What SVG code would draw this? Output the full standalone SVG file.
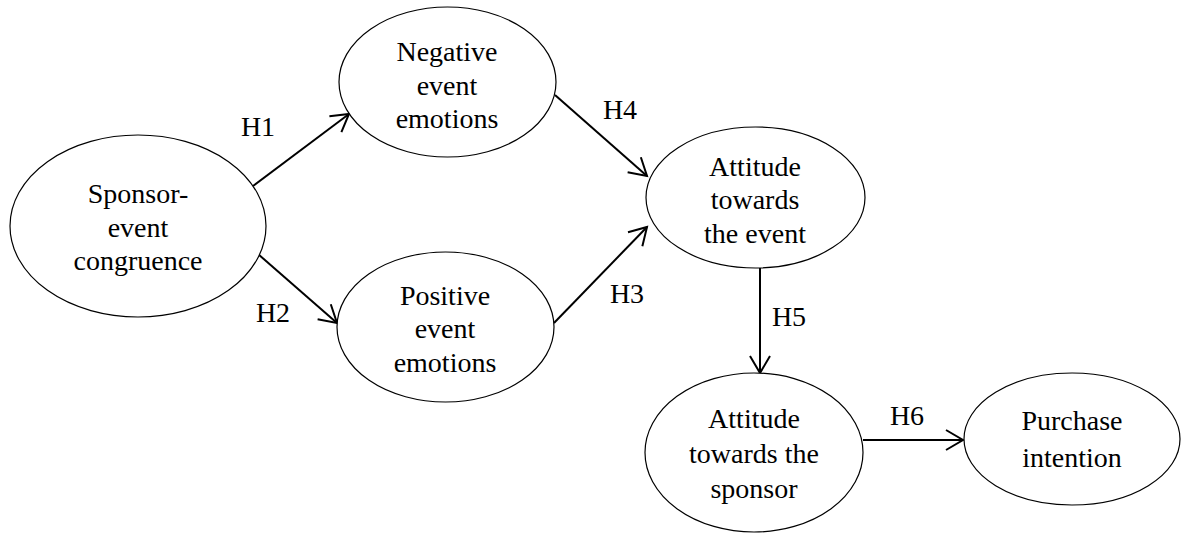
<svg xmlns="http://www.w3.org/2000/svg" width="1181" height="533" viewBox="0 0 1181 533">
<style>
.node ellipse{fill:#fff;stroke:#000;stroke-width:1.2}
text{font-family:'Liberation Serif','Times New Roman','DejaVu Serif',serif;font-size:28px;fill:#000;text-anchor:middle}
.conn line{stroke:#000;stroke-width:2;fill:none}
</style>
<defs>
<marker id="arr" markerUnits="userSpaceOnUse" markerWidth="40" markerHeight="40" viewBox="-20 -20 40 40" refX="0" refY="0" orient="auto">
<path d="M-17,-10 L0,0 L-17,10" fill="none" stroke="#000" stroke-width="2"/>
</marker>
</defs>
<rect width="1181" height="533" fill="#fff"/>
<g class="conn">
<line x1="253" y1="186" x2="349" y2="114" marker-end="url(#arr)"/>
<line x1="258" y1="254" x2="337" y2="323" marker-end="url(#arr)"/>
<line x1="555" y1="95" x2="647" y2="176" marker-end="url(#arr)"/>
<line x1="554" y1="323" x2="647" y2="227" marker-end="url(#arr)"/>
<line x1="760" y1="268" x2="760" y2="373" marker-end="url(#arr)"/>
<line x1="863" y1="440" x2="963" y2="440" marker-end="url(#arr)"/>
<text x="258" y="136">H1</text>
<text x="273" y="322">H2</text>
<text x="620" y="119">H4</text>
<text x="627" y="303">H3</text>
<text x="789" y="326">H5</text>
<text x="907" y="425">H6</text>
</g>
<g id="sponsor-event" class="node">
<ellipse cx="138" cy="226" rx="128" ry="91"/>
<text x="138" y="203">Sponsor-</text>
<text x="138" y="237">event</text>
<text x="138" y="270">congruence</text>
</g>
<g id="negative" class="node">
<ellipse cx="447.500" cy="82" rx="108.500" ry="75"/>
<text x="447" y="61">Negative</text>
<text x="447" y="95">event</text>
<text x="447" y="128">emotions</text>
</g>
<g id="positive" class="node">
<ellipse cx="445.500" cy="327" rx="108.500" ry="75"/>
<text x="445" y="305">Positive</text>
<text x="445" y="338">event</text>
<text x="445" y="372">emotions</text>
</g>
<g id="att-event" class="node">
<ellipse cx="755.500" cy="197.500" rx="109.500" ry="70.500"/>
<text x="755" y="176">Attitude</text>
<text x="755" y="209">towards</text>
<text x="755" y="243">the event</text>
</g>
<g id="att-sponsor" class="node">
<ellipse cx="754" cy="452.500" rx="109" ry="79.500"/>
<text x="754" y="428">Attitude</text>
<text x="754" y="463">towards the</text>
<text x="754" y="498">sponsor</text>
</g>
<g id="purchase" class="node">
<ellipse cx="1072" cy="439" rx="108" ry="66"/>
<text x="1072" y="430">Purchase</text>
<text x="1072" y="467">intention</text>
</g>
</svg>
